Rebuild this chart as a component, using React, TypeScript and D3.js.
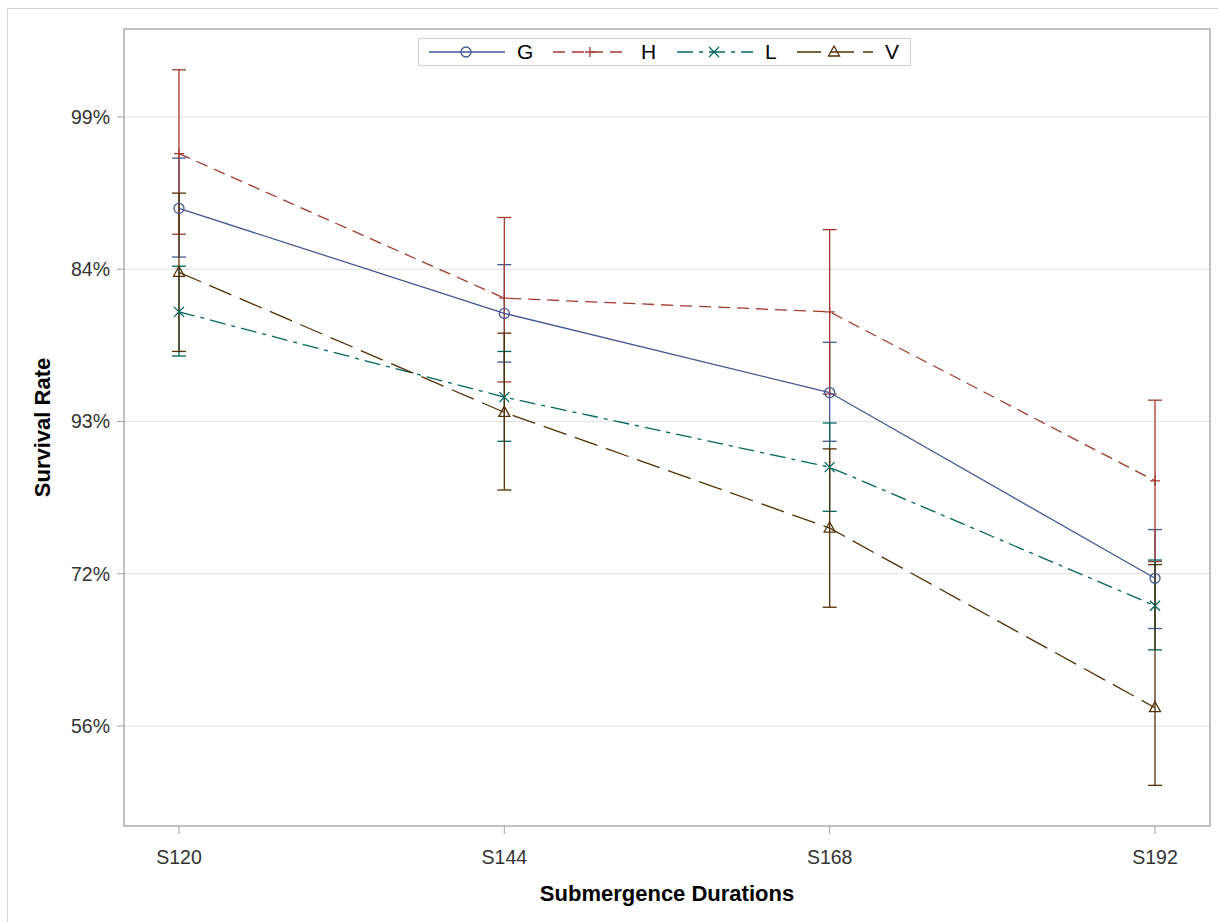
import React from 'react';
import { scaleLinear, scalePoint, line } from 'd3';

// categories and tick labels
const durations = ['S120', 'S144', 'S168', 'S192'];
const yTickValues = [0, 1, 2, 3, 4];
const yTickLabels = ['56%', '72%', '93%', '84%', '99%'];

// series values (axis units), with lower / upper limits
const groups = ['G', 'H', 'L', 'V'];
const gMean = [3.40, 2.71, 2.19, 0.97];
const gLower = [3.08, 2.39, 1.87, 0.64];
const gUpper = [3.73, 3.03, 2.52, 1.29];
const hMean = [3.76, 2.81, 2.72, 1.61];
const hLower = [3.23, 2.26, 2.18, 1.08];
const hUpper = [4.31, 3.34, 3.26, 2.14];
const lMean = [2.72, 2.16, 1.70, 0.79];
const lLower = [2.43, 1.87, 1.41, 0.50];
const lUpper = [3.02, 2.46, 1.99, 1.09];
const vMean = [2.98, 2.06, 1.30, 0.12];
const vLower = [2.46, 1.55, 0.78, -0.39];
const vUpper = [3.50, 2.58, 1.82, 1.06];

const colors = ['#445694', '#A23A2E', '#01665E', '#543005'];
const dashes = ['none', '12,7', '16,6,4,6', '24,9'];
const symbols = ['circle', 'plus', 'x', 'triangle'];

const FONT = '"Liberation Sans", Arial, sans-serif';

function Marker({ kind, x, y, color }) {
  const s = 5;
  if (kind === 'circle') return <circle cx={x} cy={y} r={s} fill="none" stroke={color} strokeWidth={1.3} />;
  if (kind === 'plus') return <path d={`M${x - s},${y}H${x + s}M${x},${y - s}V${y + s}`} stroke={color} strokeWidth={1.3} />;
  if (kind === 'x') return <path d={`M${x - s},${y - s}L${x + s},${y + s}M${x - s},${y + s}L${x + s},${y - s}`} stroke={color} strokeWidth={1.3} />;
  return <path d={`M${x},${y - s - 1}L${x + s + 0.5},${y + s - 1}L${x - s - 0.5},${y + s - 1}Z`} fill="none" stroke={color} strokeWidth={1.3} />;
}

export default function App() {
  const left = 124, right = 1210, top = 29, bottom = 826;
  const series = [
    { mean: gMean, lo: gLower, hi: gUpper },
    { mean: hMean, lo: hLower, hi: hUpper },
    { mean: lMean, lo: lLower, hi: lUpper },
    { mean: vMean, lo: vLower, hi: vUpper },
  ];

  const x = scalePoint().domain(durations).range([left, right]).padding(0.169);
  const y = scaleLinear().domain([-0.657, 4.578]).range([bottom, top]);
  const path = line().x((d, i) => x(durations[i])).y(d => y(d));

  const legendX = [429, 553, 677, 797];
  const legendY = 52;

  return (
    <svg width={1218} height={922} style={{ position: 'absolute', left: 0, top: 0, background: '#fff' }} fontFamily={FONT}>
      <rect x={7.5} y={8.5} width={1220} height={920} fill="#fff" stroke="#d4d4d4" />
      {/* grid */}
      {yTickValues.map(t => (
        <line key={t} x1={left} x2={right} y1={y(t)} y2={y(t)} stroke="#e2e2e2" strokeWidth={1.2} />
      ))}
      {/* error bars */}
      {series.map((s, k) => (
        <g key={'e' + k} stroke={colors[k]} strokeWidth={1.3}>
          {durations.map((d, i) => {
            const cx = x(d);
            return (
              <g key={d}>
                <line x1={cx} x2={cx} y1={y(s.lo[i])} y2={y(s.hi[i])} />
                <line x1={cx - 7} x2={cx + 7} y1={y(s.lo[i])} y2={y(s.lo[i])} />
                <line x1={cx - 7} x2={cx + 7} y1={y(s.hi[i])} y2={y(s.hi[i])} />
              </g>
            );
          })}
        </g>
      ))}
      {/* lines */}
      {series.map((s, k) => (
        <path key={'l' + k} d={path(s.mean)} fill="none" stroke={colors[k]} strokeWidth={1.3} strokeDasharray={dashes[k]} />
      ))}
      {/* markers */}
      {series.map((s, k) => (
        <g key={'m' + k}>
          {durations.map((d, i) => (
            <Marker key={d} kind={symbols[k]} x={x(d)} y={y(s.mean[i])} color={colors[k]} />
          ))}
        </g>
      ))}
      {/* frame */}
      <rect x={left} y={top} width={right - left} height={bottom - top} fill="none" stroke="#a0a0a0" strokeWidth={1.3} />
      {/* y axis */}
      {yTickValues.map((t, i) => (
        <g key={t}>
          <line x1={left - 7} x2={left} y1={y(t)} y2={y(t)} stroke="#a0a0a0" />
          <text x={110} y={y(t)} dy="0.35em" textAnchor="end" fontSize={19.5} fill="#333">{yTickLabels[i]}</text>
        </g>
      ))}
      <text transform={`translate(50,${(top + bottom) / 2}) rotate(-90)`} textAnchor="middle" fontSize={22} fontWeight="bold" fill="#000">Survival Rate</text>
      {/* x axis */}
      {durations.map(d => (
        <g key={d}>
          <line x1={x(d)} x2={x(d)} y1={bottom} y2={bottom + 8} stroke="#a0a0a0" />
          <text x={x(d)} y={864} textAnchor="middle" fontSize={19.5} fill="#333">{d}</text>
        </g>
      ))}
      <text x={(left + right) / 2} y={901} textAnchor="middle" fontSize={22} fontWeight="bold" fill="#000">Submergence Durations</text>
      {/* legend */}
      <rect x={418.5} y={38.5} width={492} height={27} fill="#fff" stroke="#d0d0d0" />
      {groups.map((g, k) => (
        <g key={g}>
          <line x1={legendX[k]} x2={legendX[k] + 76} y1={legendY} y2={legendY} stroke={colors[k]} strokeWidth={1.3} strokeDasharray={dashes[k]} />
          <Marker kind={symbols[k]} x={legendX[k] + 37} y={legendY} color={colors[k]} />
          <text x={legendX[k] + 88} y={legendY} dy="0.35em" fontSize={21} fill="#000">{g}</text>
        </g>
      ))}
    </svg>
  );
}
